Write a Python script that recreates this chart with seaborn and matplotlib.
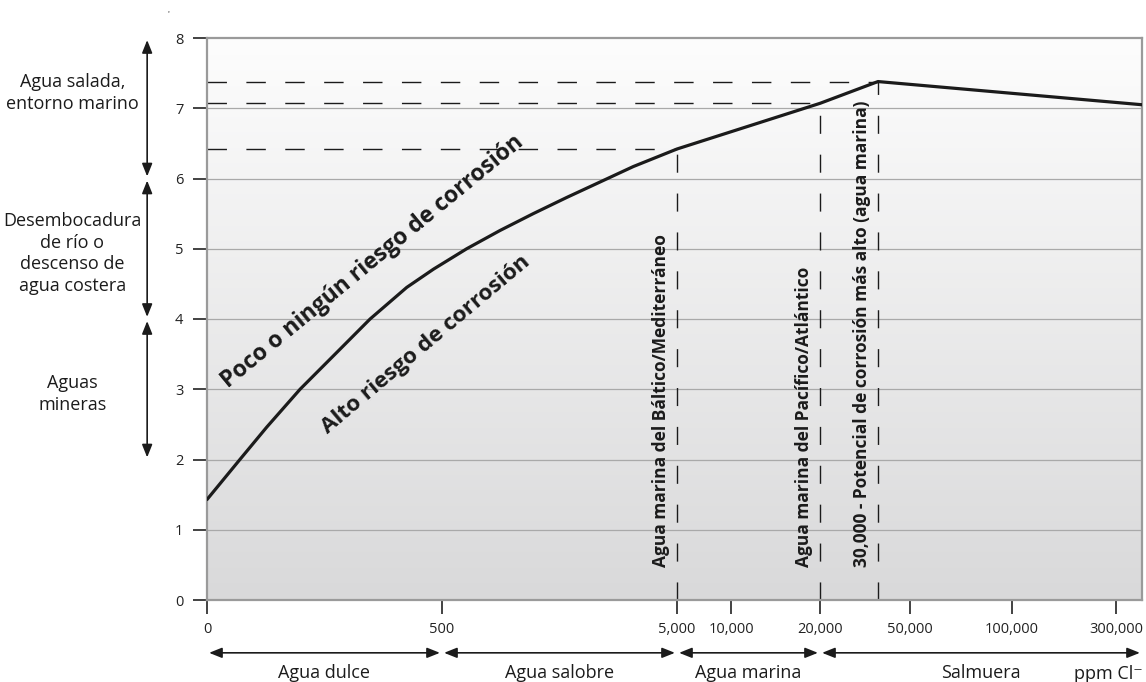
import numpy as np
import matplotlib
matplotlib.use("Agg")
import matplotlib.pyplot as plt
from matplotlib.colors import LinearSegmentedColormap
import seaborn as sns

# Werte (Grenzkurve Korrosionsrisiko)
ppm = [0, 70, 127, 198, 283, 347, 425, 482, 973, 1611, 2248, 2888, 3526, 4163, 5000, 20000, 30000, 350000]
grenze = [1.43, 2.0, 2.46, 3.0, 3.57, 4.0, 4.45, 4.71, 5.0, 5.26, 5.5, 5.73, 5.95, 6.17, 6.42, 7.07, 7.38, 7.05]

marken_ppm = [5000, 20000, 30000]
marken_wert = [6.42, 7.07, 7.38]
marken_text = ["Agua marina del Báltico/Mediterráneo",
               "Agua marina del Pacífico/Atlántico",
               "30,000 - Potencial de corrosión más alto (agua marina)"]

x_ticks = [0, 500, 5000, 10000, 20000, 50000, 100000, 300000]
x_ticklabels = ["0", "500", "5,000", "10,000", "20,000", "50,000", "100,000", "300,000"]
y_ticks = [0, 1, 2, 3, 4, 5, 6, 7, 8]

# Stützstellen der gestauchten x-Achse (ppm -> Position)
skala_ppm = [0, 500, 5000, 10000, 20000, 30000, 50000, 100000, 300000, 350000]
skala_pos = [0, 235, 470, 524, 613, 671, 703, 805, 909, 935]

bereich_grenzen = [0, 500, 5000, 20000, 350000]
bereich_namen = ["Agua dulce", "Agua salobre", "Agua marina", "Salmuera"]

zonen_grenzen = [8, 6, 4, 2]
zonen_namen = ["Agua salada,\nentorno marino",
               "Desembocadura\nde río o\ndescenso de\nagua costera",
               "Aguas\nmineras"]

sns.set_theme(style="white")
plt.rcParams['font.family'] = ['Open Sans', 'DejaVu Sans']
dunkel = "#1b1b1b"

fig = plt.figure(figsize=(11.46, 6.82), dpi=100)
ax = fig.add_axes([207 / 1146, 82 / 682, 935 / 1146, 562 / 682])


def fwd(x):
    return np.interp(x, skala_ppm, skala_pos)


def inv(p):
    return np.interp(p, skala_pos, skala_ppm)


ax.set_xscale('function', functions=(fwd, inv))

# Hintergrund-Verlauf
verlauf = LinearSegmentedColormap.from_list("v", ["#d9d9da", "#fdfdfd"])
ax.imshow(np.linspace(0, 1, 256)[:, None], cmap=verlauf, origin='lower',
          extent=(0, 1, 0, 1), transform=ax.transAxes, aspect='auto', zorder=0)

for y in y_ticks[1:-1]:
    ax.axhline(y, color="#a9a9a9", lw=0.9, zorder=1)

# Gestrichelte Markierungen
ax.vlines(marken_ppm, 0, marken_wert, color=dunkel, lw=1.0, linestyles=[(0, (13, 15))], zorder=2)
ax.hlines(marken_wert, 0, marken_ppm, color=dunkel, lw=1.0, linestyles=[(0, (14, 14))], zorder=2)

sns.lineplot(x=ppm, y=grenze, ax=ax, color=dunkel, linewidth=2.3, zorder=3)

for xm, txt in zip(marken_ppm, marken_text):
    ax.annotate(txt, xy=(xm, 0.47), xytext=(-5, 0), textcoords='offset points',
                rotation=90, ha='right', va='bottom', fontsize=12.5, fontweight='bold',
                color=dunkel, zorder=4)

ax.text(353, 4.82, "Poco o ningún riesgo de corrosión", rotation=39.5, rotation_mode='anchor',
        ha='center', va='center', fontsize=16.5, fontweight='bold', color=dunkel)
ax.text(466, 3.64, "Alto riesgo de corrosión", rotation=40, rotation_mode='anchor',
        ha='center', va='center', fontsize=16.2, fontweight='bold', color=dunkel)

ax.set_xlim(0, 350000)
ax.set_ylim(0, 8)
ax.set_xticks(x_ticks)
ax.set_xticklabels(x_ticklabels)
ax.set_yticks(y_ticks)
ax.set_xlabel("")
ax.set_ylabel("")
ax.tick_params(axis='both', bottom=True, left=True, direction='out', length=10, width=1.2,
               color="#222222", labelsize=10.5, labelcolor="#222222")
ax.tick_params(axis='y', pad=7)
ax.tick_params(axis='x', pad=6)
for s in ax.spines.values():
    s.set_color("#9a9a9a")
    s.set_linewidth(1.6)

pfeil = dict(arrowstyle="<|-|>,head_length=0.55,head_width=0.22", color=dunkel, lw=1.2,
             shrinkA=1.5, shrinkB=1.5, mutation_scale=14)

# Linke Zonen
zonen_text_y = [7.22, 4.93, 2.93]
for oben, unten, name, ty in zip(zonen_grenzen[:-1], zonen_grenzen[1:], zonen_namen, zonen_text_y):
    ax.annotate("", xy=(-0.064, unten), xytext=(-0.064, oben),
                xycoords=('axes fraction', 'data'), textcoords=('axes fraction', 'data'),
                arrowprops=pfeil, annotation_clip=False)
    ax.text(-0.144, ty, name, transform=ax.get_yaxis_transform(),
            ha='center', va='center', fontsize=13, color=dunkel, linespacing=1.25)

# Untere Bereiche
for links, rechts, name in zip(bereich_grenzen[:-1], bereich_grenzen[1:], bereich_namen):
    ax.annotate("", xy=(rechts, -0.094), xytext=(links, -0.094),
                xycoords=('data', 'axes fraction'), textcoords=('data', 'axes fraction'),
                arrowprops=pfeil, annotation_clip=False)
    mitte = inv((fwd(links) + fwd(rechts)) / 2)
    ax.text(mitte, -0.13, name, transform=ax.get_xaxis_transform(),
            ha='center', va='center', fontsize=13, color=dunkel)

fig.text(1143 / 1146, 1 - 674 / 682, "ppm Cl⁻", ha='right', va='center', fontsize=13, color=dunkel)
fig.text(168 / 1146, 1 - 14 / 682, "'", ha='center', va='center', fontsize=6, color=dunkel)

fig.savefig("out.png", dpi=100)
